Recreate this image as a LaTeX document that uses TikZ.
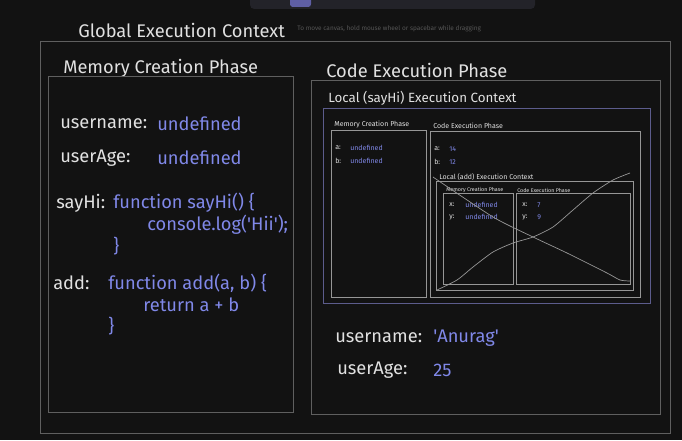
\documentclass[tikz,border=0pt]{standalone}
\usepackage{fontspec}
\setmainfont{Fira Sans}
\definecolor{boardbg}{RGB}{18,18,18}
\definecolor{chalk}{RGB}{225,225,225}
\definecolor{chalkblue}{RGB}{128,136,232}
\definecolor{boxgray}{RGB}{95,95,95}
\definecolor{boxlight}{RGB}{150,150,150}
\definecolor{boxblue}{RGB}{92,92,140}
\definecolor{barbg}{RGB}{35,35,41}
\definecolor{barsel}{RGB}{95,95,165}
\definecolor{hintgray}{RGB}{85,85,85}
\usetikzlibrary{calc}

\begin{document}
\begin{tikzpicture}[x=0.025cm,y=-0.025cm,
      lbl/.style={anchor=west,inner sep=0pt,text=chalk},
      val/.style={anchor=west,inner sep=0pt,text=chalkblue},
      big/.style={font=\fontsize{13}{15}\selectfont},
      mid/.style={font=\fontsize{9.5}{11}\selectfont},
      sml/.style={font=\fontsize{5}{6}\selectfont},
      tny/.style={font=\fontsize{3.8}{4.5}\selectfont},
      frame/.style={draw=boxgray,line width=0.6pt},
      pane/.style={draw=boxlight,line width=0.5pt}]

      \fill[boardbg] (0,0) rectangle (682,440);
      \useasboundingbox (0,0) rectangle (682,440);

      % toolbar
      \fill[barbg,rounded corners=3pt] (250,-8) rectangle (535,9);
      \fill[barsel,rounded corners=2pt] (290,-4) rectangle (311,7);
      \node[anchor=west,inner sep=0pt,text=hintgray,font=\fontsize{4.6}{5}\selectfont]
        (hint) at (297,29) {To move canvas, hold mouse wheel or spacebar while dragging};

      % Global
      \node[lbl,big] (gtitle) at (78,30) {Global Execution Context};
      \draw[frame] (40,41) rectangle (670,433);

      \node[lbl,big] (gmemtitle) at (63,68) {Memory Creation Phase};
      \draw[frame] (48,76) rectangle (293,412);

      \node[lbl,big] (guname)  at (60,124) {username:};
      \node[val,big] (gunameV) at (157,124) {undefined};
      \node[lbl,big] (gage)    at (60,158) {userAge:};
      \node[val,big] (gageV)   at (157,158) {undefined};

      \node[lbl,big] (gsay)   at (56,203) {sayHi:};
      \node[val,big] (gsayV1) at (113,203) {function sayHi() \{};
      \node[val,big] (gsayV2) at (147,225) {console.log(\textquotesingle Hii\textquotesingle);};
      \node[val,big] (gsayV3) at (113,246) {\}};

      \node[lbl,big] (gadd)   at (53,283) {add:};
      \node[val,big] (gaddV1) at (108,283) {function add(a, b) \{};
      \node[val,big] (gaddV2) at (143,305) {return a + b};
      \node[val,big] (gaddV3) at (108,326) {\}};

      \node[lbl,big] (gcodetitle) at (326,70) {Code Execution Phase};
      \draw[frame] (311,80) rectangle (660,414);

      % Local sayHi
      \node[lbl,mid] (stitle) at (328,98) {Local (sayHi) Execution Context};
      \draw[draw=boxblue,line width=0.6pt] (323,108) rectangle (650,303);

      \node[lbl,sml] (smemtitle) at (334,125) {Memory Creation Phase};
      \draw[pane] (331,130) rectangle (426,297);
      \node[lbl,sml] (sa)  at (335,148) {a:};
      \node[val,sml] (saV) at (350,148) {undefined};
      \node[lbl,sml] (sb)  at (335,161) {b:};
      \node[val,sml] (sbV) at (350,161) {undefined};

      \node[lbl,sml] (scodetitle) at (433,126) {Code Execution Phase};
      \draw[pane] (430,131) rectangle (640,297);
      \node[lbl,sml] (sca)  at (434,149) {a:};
      \node[val,sml] (scaV) at (449,149) {14};
      \node[lbl,sml] (scb)  at (434,162) {b:};
      \node[val,sml] (scbV) at (449,162) {12};

      % Local add
      \node[lbl,sml] (atitle) at (439,177) {Local (add) Execution Context};
      \draw[pane] (436,181) rectangle (633,290);

      \node[lbl,tny] (amemtitle) at (446,190) {Memory Creation Phase};
      \draw[pane] (443,193) rectangle (513,284);
      \node[lbl,sml] (ax)  at (449,205) {x:};
      \node[val,sml] (axV) at (465,205) {undefined};
      \node[lbl,sml] (ay)  at (449,217) {y:};
      \node[val,sml] (ayV) at (465,217) {undefined};

      \node[lbl,tny] (acodetitle) at (517,190) {Code Execution Phase};
      \draw[pane] (516,193) rectangle (630,284);
      \node[lbl,sml] (acx)  at (522,205) {x:};
      \node[val,sml] (acxV) at (537,205) {7};
      \node[lbl,sml] (acy)  at (522,217) {y:};
      \node[val,sml] (acyV) at (537,217) {9};

      % crossed out
      \draw[boxlight,line width=0.5pt] plot[smooth,tension=0.4] coordinates
        {(433,177) (493,217) (533,237) (567,253) (607,273) (620,280) (630,281)};
      \draw[boxlight,line width=0.5pt] plot[smooth,tension=0.4] coordinates
        {(437,290) (457,280) (473,267) (493,252) (513,243) (533,237)
         (553,227) (573,210) (593,193) (613,180) (630,173)};

      % Global values
      \node[lbl,big] (cuname)  at (335,338) {username:};
      \node[val,big] (cunameV) at (433,338) {\textquotesingle Anurag\textquotesingle};
      \node[lbl,big] (cage)    at (337,370) {userAge:};
      \node[val,big] (cageV)   at (433,370) {25};
\end{tikzpicture}
\end{document}
